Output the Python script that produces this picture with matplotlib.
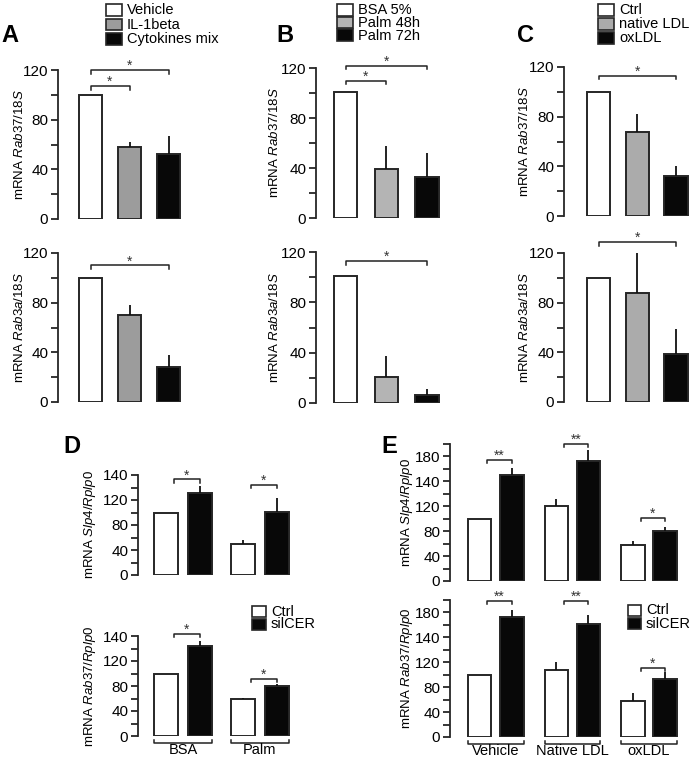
import matplotlib
matplotlib.use('Agg')
import matplotlib.pyplot as plt
from matplotlib.patches import Rectangle
import numpy as np

plt.rcParams['font.family'] = ['Liberation Sans', 'DejaVu Sans']
plt.rcParams['mathtext.fontset'] = 'custom'
plt.rcParams['mathtext.rm'] = 'Liberation Sans'
plt.rcParams['mathtext.it'] = 'Liberation Sans:italic'

W, H = 698, 762

# ---- data ----
a_labels = ['Vehicle', 'IL-1beta', 'Cytokines mix']
a_rab37 = [100, 58, 52]
a_rab37_err = [0, 4, 15]
a_rab3a = [100, 70, 28]
a_rab3a_err = [0, 8, 10]

b_labels = ['BSA 5%', 'Palm 48h', 'Palm 72h']
b_rab37 = [101, 39, 33]
b_rab37_err = [0, 19, 19]
b_rab3a = [101, 21, 6]
b_rab3a_err = [0, 16, 5]

c_labels = ['Ctrl', 'native LDL', 'oxLDL']
c_rab37 = [100, 68, 32]
c_rab37_err = [0, 14, 8]
c_rab3a = [100, 88, 39]
c_rab3a_err = [0, 32, 20]

d_groups = ['BSA', 'Palm']
d_slp4_ctrl = [100, 49]
d_slp4_ctrl_err = [0, 7]
d_slp4_si = [132, 101]
d_slp4_si_err = [10, 22]
d_rab37_ctrl = [100, 59]
d_rab37_ctrl_err = [0, 2]
d_rab37_si = [144, 80.5]
d_rab37_si_err = [8.5, 3.5]

e_groups = ['Vehicle', 'Native LDL', 'oxLDL']
e_slp4_ctrl = [100, 120, 58.5]
e_slp4_ctrl_err = [0, 11, 5.5]
e_slp4_si = [171, 192, 80.5]
e_slp4_si_err = [10, 18, 5.5]
e_rab37_ctrl = [100, 107.5, 58]
e_rab37_ctrl_err = [0, 13, 13]
e_rab37_si = [193, 181, 93]
e_rab37_si_err = [11, 15, 12]

de_labels = ['Ctrl', 'silCER']

# tick labels as printed on the figure
abc_ticks = [0, 40, 80, 120]
d_ticks = [0, 40, 80, 120, 160]
d_ticklabels = ['0', '40', '80', '120', '140']
e_ticks = [0, 40, 80, 120, 160, 200]
e_ticklabels = ['0', '40', '80', '120', '140', '180']

EDGE = '#262626'
BLACK = '#080808'

fig = plt.figure(figsize=(W / 100, H / 100), dpi=100)


def px_axes(x0, y0, x1, y1):
    return fig.add_axes([x0 / W, 1 - y1 / H, (x1 - x0) / W, (y1 - y0) / H])


def style_axis(ax, top, major, labels=None):
    ax.set_ylim(0, top)
    for s in ['top', 'right', 'bottom']:
        ax.spines[s].set_visible(False)
    ax.spines['left'].set_linewidth(1.3)
    ax.spines['left'].set_color(EDGE)
    ax.set_xticks([])
    ax.set_yticks(major)
    if labels:
        ax.set_yticklabels(labels)
    ax.set_yticks(np.arange(0, top + 1, 20), minor=True)
    ax.tick_params(axis='y', which='both', direction='out', length=5,
                   width=1.3, color=EDGE, labelsize=11, pad=2)
    ax.patch.set_alpha(0)


def bars(ax, x, vals, err, colors, width):
    ax.bar(x, vals, width=width, color=colors, edgecolor=EDGE, linewidth=1.4)
    ax.errorbar(x, vals, yerr=[np.zeros(len(vals)), err], fmt='none',
                ecolor='#111111', elinewidth=1.3, capsize=0)


def bracket(ax, x1, x2, h, dh, txt):
    ax.plot([x1, x1, x2, x2], [h - dh, h, h, h - dh], color='#222222',
            lw=1.1, clip_on=False)
    ax.annotate(txt, ((x1 + x2) / 2, h), xytext=(0, 0),
                textcoords='offset points', ha='center', va='baseline',
                fontsize=10, color='#333333', annotation_clip=False)


def group_bracket(ax, x1, x2, label, hpx):
    tr = ax.get_xaxis_transform()
    y0 = -7 / hpx
    y1 = -4 / hpx
    ax.plot([x1, x1, x2, x2], [y1, y0, y0, y1], color='#222222', lw=1.1,
            transform=tr, clip_on=False)
    ax.text((x1 + x2) / 2, -14 / hpx, label, transform=tr, ha='center',
            va='center', fontsize=10.5)


def ylab(x, y, gene):
    fig.text(x / W, 1 - y / H, 'mRNA $\\mathit{' + gene + '}$', rotation=90,
             ha='center', va='center', fontsize=9.5)


def legend(x, rows, labels, colors, bw=16, bh=12, fs=10.5):
    # hand-drawn key: one box and label per row, row centres in pixels
    for yc, lab, c in zip(rows, labels, colors):
        fig.patches.append(Rectangle((x / W, 1 - (yc + bh / 2) / H), bw / W, bh / H,
                                     facecolor=c, edgecolor=EDGE, linewidth=1.2,
                                     transform=fig.transFigure, figure=fig))
        fig.text((x + bw + 5) / W, 1 - (yc + 0.5) / H, lab, ha='left',
                 va='center', fontsize=fs)


# ---- panels A, B, C ----
abc = [
    # spine x, first centre, spacing, right edge, top rows, bottom rows, gray
    (58, 90.5, 39.0, 190, (70, 219), (253, 402), '#9c9c9c',
     a_rab37, a_rab37_err, a_rab3a, a_rab3a_err, a_labels,
     [(0, 1, 107), (0, 2, 120)], [(0, 2, 110)], 20, 106, [10, 24.5, 39], 'A', 10),
    (316, 345.5, 40.75, 445, (68, 218), (252, 403), '#b4b4b4',
     b_rab37, b_rab37_err, b_rab3a, b_rab3a_err, b_labels,
     [(0, 1, 110), (0, 2, 122)], [(0, 2, 113)], 275, 337, [10, 22.5, 35], 'B', 285),
    (564, 598.5, 38.75, 692, (67, 216), (253, 402), '#ababab',
     c_rab37, c_rab37_err, c_rab3a, c_rab3a_err, c_labels,
     [(0, 2, 113)], [(0, 2, 129)], 525, 598, [10, 24, 38], 'C', 526),
]

for (sx, c0, sp, rx, trow, brow, gray, v1, e1, v2, e2, labels,
     br1, br2, ylx, legx, legrows, letter, lx) in abc:
    colors = ['white', gray, BLACK]
    x = np.arange(3)
    for (y0, y1), vals, err, gene, brs in [(trow, v1, e1, 'Rab37/18S', br1),
                                         (brow, v2, e2, 'Rab3a/18S', br2)]:
        ax = px_axes(sx, y0, rx, y1)
        style_axis(ax, 120, abc_ticks)
        ax.set_xlim(-(c0 - sx) / sp, (rx - c0) / sp)
        bars(ax, x, vals, err, colors, 23.5 / sp)
        for i, j, h in brs:
            bracket(ax, i, j, h, 3, '*')
        ylab(ylx, (y0 + y1) / 2, gene)
    legend(legx, legrows, labels, colors, bh=11.5)
    fig.text(lx / W, 1 - 42 / H, letter, fontsize=17, weight='bold',
             ha='center', va='baseline')

# ---- panel D ----
d_x = np.arange(2)
off, bw = 0.22, 0.305
d_rows = [((475, 575), d_slp4_ctrl, d_slp4_ctrl_err, d_slp4_si, d_slp4_si_err,
           'Slp4/Rplp0', [153, 144]),
          ((636, 736), d_rab37_ctrl, d_rab37_ctrl_err, d_rab37_si, d_rab37_si_err,
           'Rab37/Rplp0', [164, 92])]
for k, ((y0, y1), vc, ec, vs, es, gene, hs) in enumerate(d_rows):
    ax = px_axes(138, y0, 292, y1)
    style_axis(ax, 160, d_ticks, d_ticklabels)
    ax.set_xlim((138 - 183) / 77, (292 - 183) / 77)
    bars(ax, d_x - off, vc, ec, 'white', bw)
    bars(ax, d_x + off, vs, es, BLACK, bw)
    for g, h in zip(d_x, hs):
        bracket(ax, g - off + 0.1, g + off, h, 5, '*')
    ylab(90, (y0 + y1) / 2, gene)
    if k == 1:
        for g, name in zip(d_x, d_groups):
            group_bracket(ax, g - off - bw / 2, g + off + bw / 2, name, y1 - y0)
legend(252, [611, 624], de_labels, ['white', BLACK], bw=14, bh=11)
fig.text(72 / W, 1 - 453 / H, 'D', fontsize=17, weight='bold',
         ha='center', va='baseline')

# ---- panel E ----
e_x = np.arange(3)
off, bw = 0.21, 0.307
e_rows = [((444, 581), e_slp4_ctrl, e_slp4_ctrl_err, e_slp4_si, e_slp4_si_err,
           'Slp4/Rplp0', [194, 220, 101.5], ['**', '**', '*']),
          ((600, 737), e_rab37_ctrl, e_rab37_ctrl_err, e_rab37_si, e_rab37_si_err,
           'Rab37/Rplp0', [219, 219, 111], ['**', '**', '*'])]
for k, ((y0, y1), vc, ec, vs, es, gene, hs, stars) in enumerate(e_rows):
    ax = px_axes(450, y0, 682, y1)
    style_axis(ax, 220, e_ticks, e_ticklabels)
    ax.set_xlim((450 - 495.75) / 76.6, (682 - 495.75) / 76.6)
    bars(ax, e_x - off, vc, ec, 'white', bw)
    bars(ax, e_x + off, vs, es, BLACK, bw)
    for g, h, s in zip(e_x, hs, stars):
        bracket(ax, g - off + 0.1, g + off, h, 5, s)
    ylab(407, (y0 + y1) / 2, gene)
    if k == 1:
        for g, name in zip(e_x, e_groups):
            group_bracket(ax, g - off - bw / 2, g + off + bw / 2, name, y1 - y0)
legend(628, [610, 623], de_labels, ['white', BLACK], bw=13, bh=11)
fig.text(389 / W, 1 - 453 / H, 'E', fontsize=17, weight='bold',
         ha='center', va='baseline')

fig.savefig('out.png', dpi=100)
